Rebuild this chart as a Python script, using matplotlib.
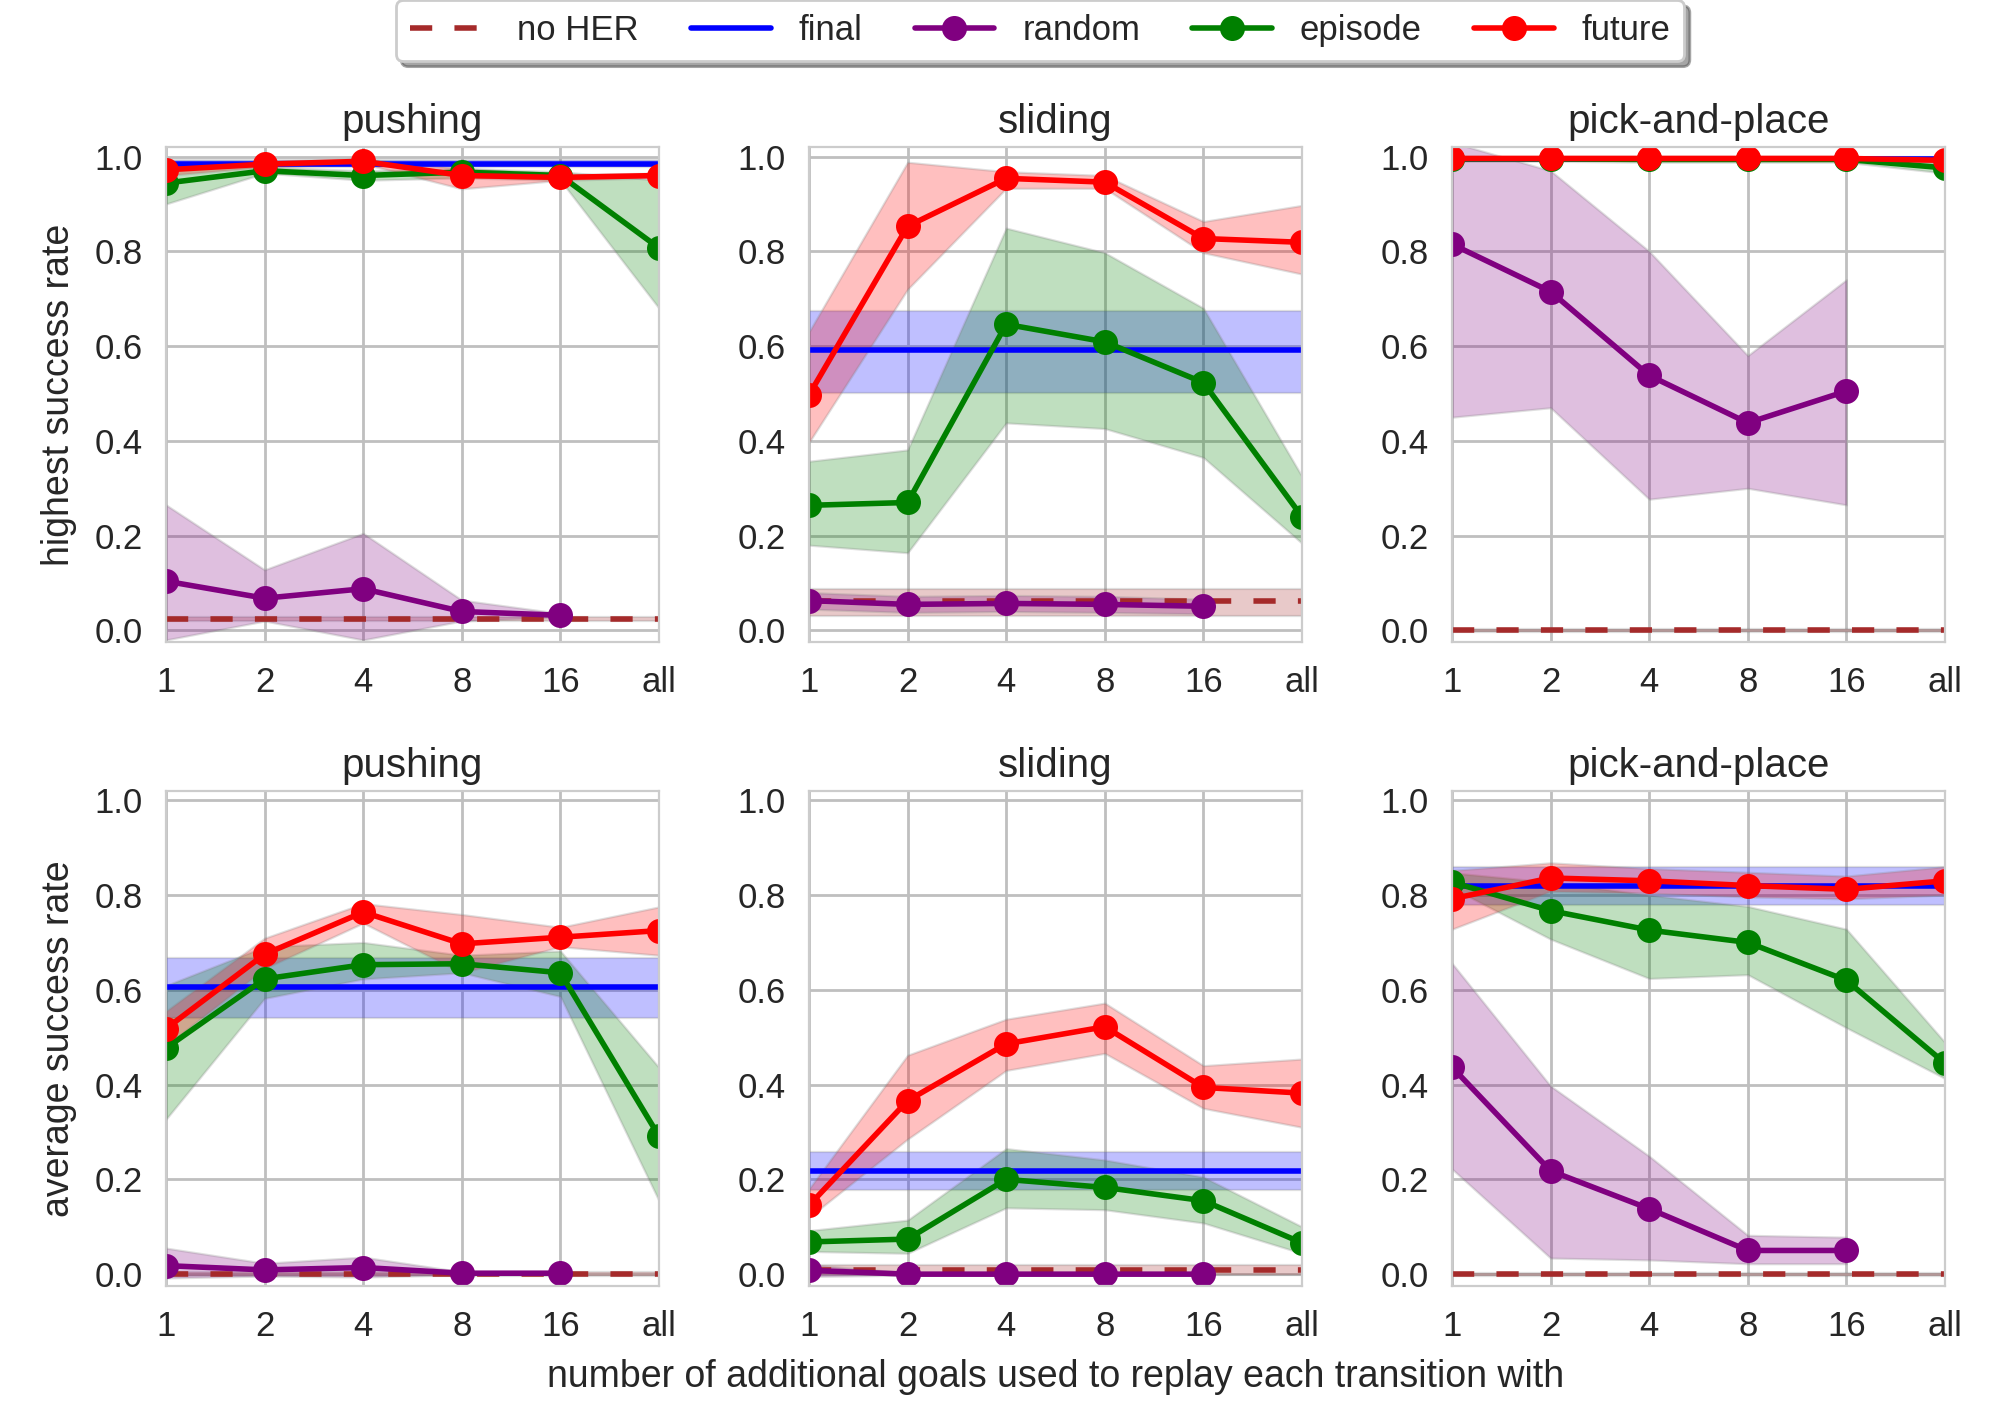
import matplotlib
matplotlib.use("Agg")

import numpy as np
import matplotlib.pyplot as plt
import seaborn as sns

sns.set_style("whitegrid")
plt.rcParams['font.family'] = ['Liberation Sans', 'DejaVu Sans']
plt.rcParams['text.color'] = '.15'
plt.rcParams['axes.labelcolor'] = '.15'
plt.rcParams['xtick.color'] = '.15'
plt.rcParams['ytick.color'] = '.15'

tick_labels = ["1", "2", "4", "8", "16", "all"]
tasks = ["pushing", "sliding", "pick-and-place"]
row_labels = ["highest success rate", "average success rate"]

# ---- highest success rate (top row) ----
# each entry: (mean, lower, upper)
hi_noher = {
    "pushing": (0.024, 0.019, 0.029),
    "sliding": (0.063, 0.031, 0.087),
    "pick-and-place": (0.0, -0.003, 0.003),
}
hi_final = {
    "pushing": (0.985, 0.978, 0.992),
    "sliding": (0.591, 0.502, 0.675),
    "pick-and-place": (0.995, 0.99, 1.0),
}
hi_random = {
    "pushing": ([0.104, 0.068, 0.088, 0.040, 0.032],
                [-0.02, 0.02, -0.02, 0.02, 0.028],
                [0.265, 0.128, 0.205, 0.064, 0.036]),
    "sliding": ([0.063, 0.055, 0.057, 0.055, 0.051],
                [0.045, 0.038, 0.040, 0.038, 0.035],
                [0.080, 0.072, 0.074, 0.072, 0.066]),
    "pick-and-place": ([0.815, 0.715, 0.538, 0.438, 0.505],
                       [0.45, 0.47, 0.277, 0.30, 0.265],
                       [1.03, 0.97, 0.80, 0.58, 0.74]),
}
hi_episode = {
    "pushing": ([0.944, 0.970, 0.960, 0.967, 0.960, 0.807],
                [0.90, 0.965, 0.950, 0.955, 0.950, 0.68],
                [0.98, 0.978, 0.970, 0.975, 0.968, 0.95]),
    "sliding": ([0.264, 0.270, 0.646, 0.609, 0.523, 0.240],
                [0.180, 0.164, 0.438, 0.426, 0.365, 0.184],
                [0.357, 0.381, 0.849, 0.797, 0.680, 0.325]),
    "pick-and-place": ([0.995, 0.995, 0.994, 0.994, 0.994, 0.976],
                       [0.99, 0.99, 0.988, 0.988, 0.988, 0.965],
                       [1.0, 1.0, 1.0, 1.0, 1.0, 0.988]),
}
hi_future = {
    "pushing": ([0.972, 0.984, 0.990, 0.960, 0.956, 0.960],
                [0.96, 0.978, 0.985, 0.932, 0.950, 0.955],
                [0.985, 0.99, 0.995, 0.975, 0.962, 0.965]),
    "sliding": ([0.497, 0.853, 0.954, 0.946, 0.827, 0.819],
                [0.397, 0.720, 0.933, 0.933, 0.797, 0.752],
                [0.630, 0.988, 0.968, 0.960, 0.863, 0.897]),
    "pick-and-place": ([0.996, 0.996, 0.996, 0.996, 0.996, 0.992],
                       [0.992, 0.992, 0.992, 0.992, 0.992, 0.986],
                       [1.0, 1.0, 1.0, 1.0, 1.0, 0.997]),
}

# ---- average success rate (bottom row) ----
avg_noher = {
    "pushing": (0.0, -0.004, 0.004),
    "sliding": (0.008, -0.002, 0.02),
    "pick-and-place": (0.0, -0.003, 0.003),
}
avg_final = {
    "pushing": (0.605, 0.541, 0.668),
    "sliding": (0.218, 0.177, 0.257),
    "pick-and-place": (0.82, 0.78, 0.86),
}
avg_random = {
    "pushing": ([0.018, 0.009, 0.014, 0.002, 0.002],
                [-0.008, -0.004, -0.006, -0.001, -0.001],
                [0.055, 0.023, 0.036, 0.005, 0.003]),
    "sliding": ([0.008, 0.0, 0.0, 0.0, 0.0],
                [-0.005, -0.002, -0.002, -0.002, -0.002],
                [0.02, 0.003, 0.003, 0.003, 0.003]),
    "pick-and-place": ([0.437, 0.218, 0.138, 0.050, 0.050],
                       [0.222, 0.034, 0.030, 0.022, 0.022],
                       [0.656, 0.397, 0.249, 0.082, 0.078]),
}
avg_episode = {
    "pushing": ([0.477, 0.623, 0.653, 0.655, 0.636, 0.291],
                [0.327, 0.582, 0.623, 0.636, 0.586, 0.155],
                [0.609, 0.691, 0.700, 0.673, 0.682, 0.436]),
    "sliding": ([0.068, 0.074, 0.200, 0.183, 0.155, 0.066],
                [0.048, 0.044, 0.140, 0.136, 0.108, 0.044],
                [0.092, 0.114, 0.265, 0.241, 0.205, 0.100]),
    "pick-and-place": ([0.827, 0.767, 0.726, 0.700, 0.620, 0.445],
                       [0.815, 0.707, 0.624, 0.632, 0.520, 0.413],
                       [0.847, 0.827, 0.800, 0.776, 0.728, 0.489]),
}
avg_future = {
    "pushing": ([0.518, 0.675, 0.764, 0.697, 0.711, 0.725],
                [0.482, 0.645, 0.741, 0.636, 0.691, 0.673],
                [0.555, 0.709, 0.782, 0.759, 0.732, 0.775]),
    "sliding": ([0.145, 0.366, 0.486, 0.522, 0.394, 0.382],
                [0.120, 0.285, 0.430, 0.466, 0.350, 0.310],
                [0.180, 0.462, 0.538, 0.572, 0.440, 0.454]),
    "pick-and-place": ([0.792, 0.836, 0.830, 0.820, 0.812, 0.830],
                       [0.728, 0.808, 0.804, 0.796, 0.792, 0.800],
                       [0.852, 0.868, 0.856, 0.848, 0.840, 0.860]),
}

rows = [
    (hi_noher, hi_final, hi_random, hi_episode, hi_future),
    (avg_noher, avg_final, avg_random, avg_episode, avg_future),
]

c_noher, c_final, c_random, c_episode, c_future = "brown", "blue", "purple", "green", "red"

fig = plt.figure(figsize=(10, 7.105), dpi=200)
left, width, gap = 0.083, 0.2465, 0.075
bottoms, height = [0.548, 0.095], 0.3485

x_all = np.arange(len(tick_labels))
band_kw = dict(alpha=0.25, edgecolor="gray", linewidth=0.8)

handles = None
for r, (noher, final, random_, episode, future) in enumerate(rows):
    for c, task in enumerate(tasks):
        ax = fig.add_axes([left + c * (width + gap), bottoms[r], width, height])

        m, lo, hi = noher[task]
        h_noher, = ax.plot(x_all, [m] * len(x_all), "--", color=c_noher, lw=2, dashes=(4, 4))
        ax.fill_between(x_all, lo, hi, color=c_noher, **band_kw)

        m, lo, hi = final[task]
        h_final, = ax.plot(x_all, [m] * len(x_all), "-", color=c_final, lw=2)
        ax.fill_between(x_all, lo, hi, color=c_final, **band_kw)

        m, lo, hi = random_[task]
        xr = x_all[:len(m)]
        ax.fill_between(xr, lo, hi, color=c_random, **band_kw)
        h_random, = ax.plot(xr, m, "-o", color=c_random, lw=2, ms=8)

        m, lo, hi = episode[task]
        ax.fill_between(x_all, lo, hi, color=c_episode, **band_kw)
        h_episode, = ax.plot(x_all, m, "-o", color=c_episode, lw=2, ms=8)

        m, lo, hi = future[task]
        ax.fill_between(x_all, lo, hi, color=c_future, **band_kw)
        h_future, = ax.plot(x_all, m, "-o", color=c_future, lw=2, ms=8)

        ax.set_xlim(0, 5)
        ax.set_ylim(-0.025, 1.02)
        ax.set_xticks(x_all)
        ax.set_xticklabels(tick_labels)
        ax.set_yticks([0.0, 0.2, 0.4, 0.6, 0.8, 1.0])
        ax.tick_params(labelsize=12.5, pad=5)
        ax.grid(color=".75", lw=1)
        for s in ax.spines.values():
            s.set_color(".8")
        ax.set_title(task, fontsize=14.5, pad=5)
        if c == 0:
            ax.set_ylabel(row_labels[r], fontsize=13.5, labelpad=6)
        if r == 1 and c == 1:
            ax.set_xlabel("number of additional goals used to replay each transition with",
                          fontsize=13.5, labelpad=6)
        handles = [h_noher, h_final, h_random, h_episode, h_future]

fig.legend(handles, ["no HER", "final", "random", "episode", "future"],
           loc="upper center", bbox_to_anchor=(0.52, 1.012), ncol=5,
           frameon=True, shadow=True, fontsize=12.5, handlelength=2.3,
           columnspacing=1.5, borderpad=0.4)

plt.savefig("out.png", dpi=200)
